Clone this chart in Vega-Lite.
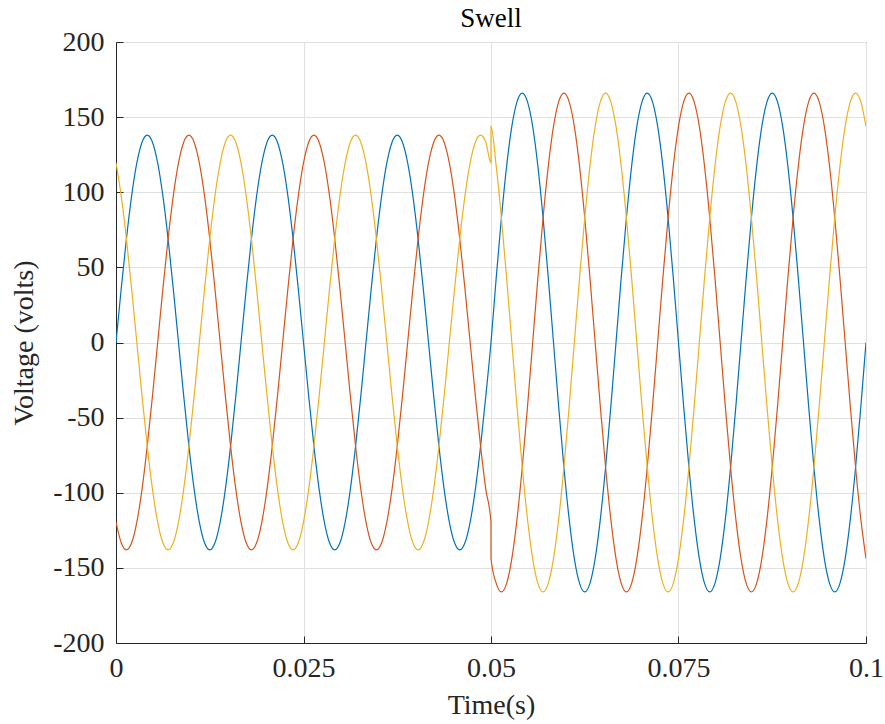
{
"$schema":"https://vega.github.io/schema/vega-lite/v6.json",
"width":750,"height":601,
"autosize":{"type":"none"},
"padding":{"left":116,"top":42,"right":19,"bottom":81},
"background":"white",
"title":{"text":"Swell","font":"Liberation Serif","fontSize":27,"fontWeight":"normal","color":"#000","offset":-5},
"config":{"view":{"stroke":"#262626","strokeWidth":1},"axis":{"labelFont":"Liberation Serif","titleFont":"Liberation Serif","labelFontSize":28,"titleFontSize":28,"titleFontWeight":"normal","labelColor":"#262626","titleColor":"#262626","gridColor":"#e1e1e1","gridWidth":1,"domainColor":"#262626","tickColor":"#262626","tickSize":-7}},
"data":{"values":[
{"t":0,"a":0,"b":-119.5,"c":119.5},
{"t":0.000694,"a":35.7,"b":-133.3,"c":97.6},
{"t":0.001389,"a":69,"b":-138,"c":69},
{"t":0.002083,"a":97.6,"b":-133.3,"c":35.7},
{"t":0.002778,"a":119.5,"b":-119.5,"c":0},
{"t":0.003472,"a":133.3,"b":-97.6,"c":-35.7},
{"t":0.004167,"a":138,"b":-69,"c":-69},
{"t":0.004861,"a":133.3,"b":-35.7,"c":-97.6},
{"t":0.005556,"a":119.5,"b":0,"c":-119.5},
{"t":0.00625,"a":97.6,"b":35.7,"c":-133.3},
{"t":0.006944,"a":69,"b":69,"c":-138},
{"t":0.007639,"a":35.7,"b":97.6,"c":-133.3},
{"t":0.008333,"a":0,"b":119.5,"c":-119.5},
{"t":0.009028,"a":-35.7,"b":133.3,"c":-97.6},
{"t":0.009722,"a":-69,"b":138,"c":-69},
{"t":0.010417,"a":-97.6,"b":133.3,"c":-35.7},
{"t":0.011111,"a":-119.5,"b":119.5,"c":0},
{"t":0.011806,"a":-133.3,"b":97.6,"c":35.7},
{"t":0.0125,"a":-138,"b":69,"c":69},
{"t":0.013194,"a":-133.3,"b":35.7,"c":97.6},
{"t":0.013889,"a":-119.5,"b":0,"c":119.5},
{"t":0.014583,"a":-97.6,"b":-35.7,"c":133.3},
{"t":0.015278,"a":-69,"b":-69,"c":138},
{"t":0.015972,"a":-35.7,"b":-97.6,"c":133.3},
{"t":0.016667,"a":0,"b":-119.5,"c":119.5},
{"t":0.017361,"a":35.7,"b":-133.3,"c":97.6},
{"t":0.018056,"a":69,"b":-138,"c":69},
{"t":0.01875,"a":97.6,"b":-133.3,"c":35.7},
{"t":0.019444,"a":119.5,"b":-119.5,"c":0},
{"t":0.020139,"a":133.3,"b":-97.6,"c":-35.7},
{"t":0.020833,"a":138,"b":-69,"c":-69},
{"t":0.021528,"a":133.3,"b":-35.7,"c":-97.6},
{"t":0.022222,"a":119.5,"b":0,"c":-119.5},
{"t":0.022917,"a":97.6,"b":35.7,"c":-133.3},
{"t":0.023611,"a":69,"b":69,"c":-138},
{"t":0.024306,"a":35.7,"b":97.6,"c":-133.3},
{"t":0.025,"a":0,"b":119.5,"c":-119.5},
{"t":0.025694,"a":-35.7,"b":133.3,"c":-97.6},
{"t":0.026389,"a":-69,"b":138,"c":-69},
{"t":0.027083,"a":-97.6,"b":133.3,"c":-35.7},
{"t":0.027778,"a":-119.5,"b":119.5,"c":0},
{"t":0.028472,"a":-133.3,"b":97.6,"c":35.7},
{"t":0.029167,"a":-138,"b":69,"c":69},
{"t":0.029861,"a":-133.3,"b":35.7,"c":97.6},
{"t":0.030556,"a":-119.5,"b":0,"c":119.5},
{"t":0.03125,"a":-97.6,"b":-35.7,"c":133.3},
{"t":0.031944,"a":-69,"b":-69,"c":138},
{"t":0.032639,"a":-35.7,"b":-97.6,"c":133.3},
{"t":0.033333,"a":0,"b":-119.5,"c":119.5},
{"t":0.034028,"a":35.7,"b":-133.3,"c":97.6},
{"t":0.034722,"a":69,"b":-138,"c":69},
{"t":0.035417,"a":97.6,"b":-133.3,"c":35.7},
{"t":0.036111,"a":119.5,"b":-119.5,"c":0},
{"t":0.036806,"a":133.3,"b":-97.6,"c":-35.7},
{"t":0.0375,"a":138,"b":-69,"c":-69},
{"t":0.038194,"a":133.3,"b":-35.7,"c":-97.6},
{"t":0.038889,"a":119.5,"b":0,"c":-119.5},
{"t":0.039583,"a":97.6,"b":35.7,"c":-133.3},
{"t":0.040278,"a":69,"b":69,"c":-138},
{"t":0.040972,"a":35.7,"b":97.6,"c":-133.3},
{"t":0.041667,"a":0,"b":119.5,"c":-119.5},
{"t":0.042361,"a":-35.7,"b":133.3,"c":-97.6},
{"t":0.043056,"a":-69,"b":138,"c":-69},
{"t":0.04375,"a":-97.6,"b":133.3,"c":-35.7},
{"t":0.044444,"a":-119.5,"b":119.5,"c":0},
{"t":0.045139,"a":-133.3,"b":97.6,"c":35.7},
{"t":0.045833,"a":-138,"b":69,"c":69},
{"t":0.046528,"a":-133.3,"b":35.7,"c":97.6},
{"t":0.047222,"a":-119.5,"b":0,"c":119.5},
{"t":0.047917,"a":-97.6,"b":-35.7,"c":133.3},
{"t":0.048611,"a":-69,"b":-69,"c":138},
{"t":0.049306,"a":-35.7,"b":-97.6,"c":133.3},
{"t":0.049999,"b":-119.5,"c":119.5},
{"t":0.05,"a":0,"b":-143.8,"c":143.8},
{"t":0.050694,"a":43,"b":-160.3,"c":117.4},
{"t":0.051389,"a":83,"b":-166,"c":83},
{"t":0.052083,"a":117.4,"b":-160.3,"c":43},
{"t":0.052778,"a":143.8,"b":-143.8,"c":0},
{"t":0.053472,"a":160.3,"b":-117.4,"c":-43},
{"t":0.054167,"a":166,"b":-83,"c":-83},
{"t":0.054861,"a":160.3,"b":-43,"c":-117.4},
{"t":0.055556,"a":143.8,"b":0,"c":-143.8},
{"t":0.05625,"a":117.4,"b":43,"c":-160.3},
{"t":0.056944,"a":83,"b":83,"c":-166},
{"t":0.057639,"a":43,"b":117.4,"c":-160.3},
{"t":0.058333,"a":0,"b":143.8,"c":-143.8},
{"t":0.059028,"a":-43,"b":160.3,"c":-117.4},
{"t":0.059722,"a":-83,"b":166,"c":-83},
{"t":0.060417,"a":-117.4,"b":160.3,"c":-43},
{"t":0.061111,"a":-143.8,"b":143.8,"c":0},
{"t":0.061806,"a":-160.3,"b":117.4,"c":43},
{"t":0.0625,"a":-166,"b":83,"c":83},
{"t":0.063194,"a":-160.3,"b":43,"c":117.4},
{"t":0.063889,"a":-143.8,"b":0,"c":143.8},
{"t":0.064583,"a":-117.4,"b":-43,"c":160.3},
{"t":0.065278,"a":-83,"b":-83,"c":166},
{"t":0.065972,"a":-43,"b":-117.4,"c":160.3},
{"t":0.066667,"a":0,"b":-143.8,"c":143.8},
{"t":0.067361,"a":43,"b":-160.3,"c":117.4},
{"t":0.068056,"a":83,"b":-166,"c":83},
{"t":0.06875,"a":117.4,"b":-160.3,"c":43},
{"t":0.069444,"a":143.8,"b":-143.8,"c":0},
{"t":0.070139,"a":160.3,"b":-117.4,"c":-43},
{"t":0.070833,"a":166,"b":-83,"c":-83},
{"t":0.071528,"a":160.3,"b":-43,"c":-117.4},
{"t":0.072222,"a":143.8,"b":0,"c":-143.8},
{"t":0.072917,"a":117.4,"b":43,"c":-160.3},
{"t":0.073611,"a":83,"b":83,"c":-166},
{"t":0.074306,"a":43,"b":117.4,"c":-160.3},
{"t":0.075,"a":0,"b":143.8,"c":-143.8},
{"t":0.075694,"a":-43,"b":160.3,"c":-117.4},
{"t":0.076389,"a":-83,"b":166,"c":-83},
{"t":0.077083,"a":-117.4,"b":160.3,"c":-43},
{"t":0.077778,"a":-143.8,"b":143.8,"c":0},
{"t":0.078472,"a":-160.3,"b":117.4,"c":43},
{"t":0.079167,"a":-166,"b":83,"c":83},
{"t":0.079861,"a":-160.3,"b":43,"c":117.4},
{"t":0.080556,"a":-143.8,"b":0,"c":143.8},
{"t":0.08125,"a":-117.4,"b":-43,"c":160.3},
{"t":0.081944,"a":-83,"b":-83,"c":166},
{"t":0.082639,"a":-43,"b":-117.4,"c":160.3},
{"t":0.083333,"a":0,"b":-143.8,"c":143.8},
{"t":0.084028,"a":43,"b":-160.3,"c":117.4},
{"t":0.084722,"a":83,"b":-166,"c":83},
{"t":0.085417,"a":117.4,"b":-160.3,"c":43},
{"t":0.086111,"a":143.8,"b":-143.8,"c":0},
{"t":0.086806,"a":160.3,"b":-117.4,"c":-43},
{"t":0.0875,"a":166,"b":-83,"c":-83},
{"t":0.088194,"a":160.3,"b":-43,"c":-117.4},
{"t":0.088889,"a":143.8,"b":0,"c":-143.8},
{"t":0.089583,"a":117.4,"b":43,"c":-160.3},
{"t":0.090278,"a":83,"b":83,"c":-166},
{"t":0.090972,"a":43,"b":117.4,"c":-160.3},
{"t":0.091667,"a":0,"b":143.8,"c":-143.8},
{"t":0.092361,"a":-43,"b":160.3,"c":-117.4},
{"t":0.093056,"a":-83,"b":166,"c":-83},
{"t":0.09375,"a":-117.4,"b":160.3,"c":-43},
{"t":0.094444,"a":-143.8,"b":143.8,"c":0},
{"t":0.095139,"a":-160.3,"b":117.4,"c":43},
{"t":0.095833,"a":-166,"b":83,"c":83},
{"t":0.096528,"a":-160.3,"b":43,"c":117.4},
{"t":0.097222,"a":-143.8,"b":0,"c":143.8},
{"t":0.097917,"a":-117.4,"b":-43,"c":160.3},
{"t":0.098611,"a":-83,"b":-83,"c":166},
{"t":0.099306,"a":-43,"b":-117.4,"c":160.3},
{"t":0.1,"a":0,"b":-143.8,"c":143.8}
]},
"transform":[{"fold":["a","b","c"],"as":["phase","v"]},{"filter":"isValid(datum.v)"}],
"mark":{"type":"line","strokeWidth":1.2,"interpolate":"monotone","clip":true},
"encoding":{
"x":{"field":"t","type":"quantitative","scale":{"domain":[0,0.1],"nice":false,"zero":false},"axis":{"title":"Time(s)","values":[0,0.025,0.05,0.075,0.1],"labelExpr":"''+datum.value","labelPadding":18,"titlePadding":9,"grid":true,"labelFlush":false}},
"y":{"field":"v","type":"quantitative","scale":{"domain":[-200,200],"nice":false},"axis":{"title":"Voltage (volts)","values":[-200,-150,-100,-50,0,50,100,150,200],"labelExpr":"''+datum.value","labelPadding":19,"titlePadding":14,"grid":true}},
"color":{"field":"phase","type":"nominal","scale":{"domain":["a","b","c"],"range":["#0072BD","#D95319","#EDB120"]},"legend":null}
}
}
